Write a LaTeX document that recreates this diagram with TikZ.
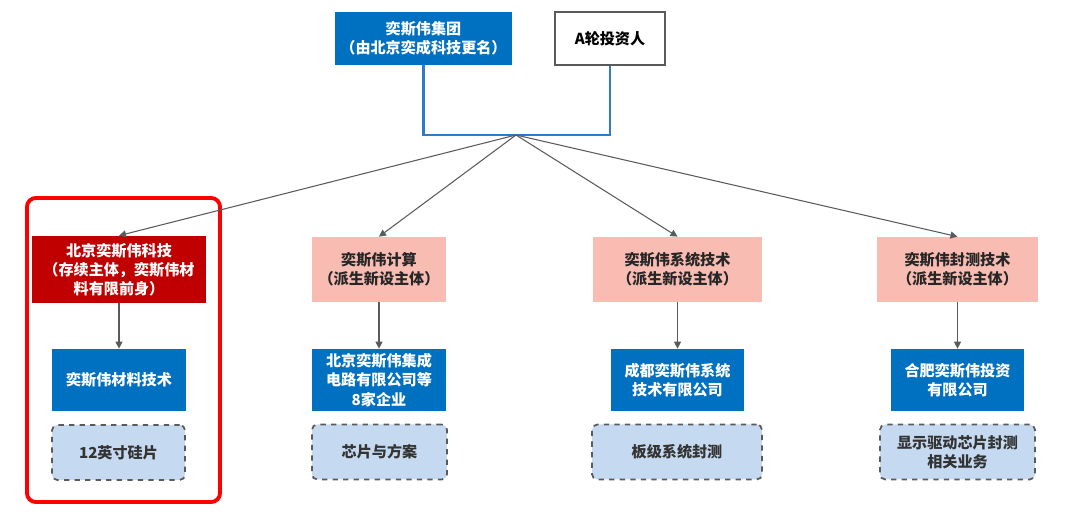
\documentclass[tikz,border=0pt]{standalone}
\usepackage{fontspec}
\setmainfont{Noto Sans CJK SC}
\usepackage{xcolor}
\usetikzlibrary{arrows.meta, positioning}
\definecolor{esblue}{HTML}{0070C0}
\definecolor{esline}{HTML}{2E7CC6}
\definecolor{esred}{HTML}{C00000}
\definecolor{espink}{HTML}{F9BCB2}
\definecolor{eslight}{HTML}{C5D9F0}
\definecolor{esgray}{HTML}{5A5A5A}

\begin{document}
\begin{tikzpicture}[x=0.02cm, y=-0.02cm,
    box/.style={rectangle, align=center, inner sep=0pt,
        font=\fontsize{8.6}{10.9}\selectfont\bfseries},
    topbox/.style={box, fill=esblue, text=white, minimum height=1.06cm},
    invbox/.style={box, draw=esgray, line width=1pt, fill=white, text=black, minimum height=1.06cm},
    mainbox/.style={box, fill=esred, text=white, minimum height=1.34cm},
    subbox/.style={box, fill=espink, text=black!85, minimum height=1.3cm},
    corpbox/.style={box, fill=esblue, text=white, minimum width=2.68cm, minimum height=1.24cm},
    bizbox/.style={box, draw=esgray, dashed, line width=1pt, rounded corners=3pt,
        fill=eslight, text=black!80, minimum height=1.1cm},
    link/.style={draw=esgray, line width=0.6pt, -{Triangle[length=4pt, width=4pt]}},
    bracket/.style={draw=esline, line width=1.2pt}]
    \useasboundingbox (0,0) rectangle (1080,519);

    % shareholders
    \node[topbox, minimum width=3.54cm] (group) at (423.5,38.5) {奕斯伟集团\\（由北京奕成科技更名）};
    \node[invbox, minimum width=2.2cm] (invest) at (610,38.5) {A轮投资人};
    \coordinate (joint) at (516,135);
    \draw[bracket] (group.south) |- (joint) -| (invest.south);

    % new entities
    \node[mainbox, minimum width=3.48cm] (tech) at (119,269.5) {北京奕斯伟科技\\（存续主体，奕斯伟材\\料有限前身）};
    \node[subbox, minimum width=2.68cm] (comp) at (379,269.5) {奕斯伟计算\\（派生新设主体）};
    \node[subbox, minimum width=3.38cm] (sys) at (677.5,269.5) {奕斯伟系统技术\\（派生新设主体）};
    \node[subbox, minimum width=3.22cm] (pack) at (957.5,269.5) {奕斯伟封测技术\\（派生新设主体）};

    % subsidiaries
    \node[corpbox] (mat) at (119,380) {奕斯伟材料技术};
    \node[corpbox] (ic) at (379,380) {北京奕斯伟集成\\电路有限公司等\\8家企业};
    \node[corpbox] (cd) at (677.5,380) {成都奕斯伟系统\\技术有限公司};
    \node[corpbox] (hf) at (957.5,380) {合肥奕斯伟投资\\有限公司};

    % business
    \node[bizbox, minimum width=2.66cm] (wafer) at (118.5,452.5) {12英寸硅片};
    \node[bizbox, minimum width=2.7cm] (chip) at (379.5,452) {芯片与方案};
    \node[bizbox, minimum width=3.4cm] (board) at (677,452) {板级系统封测};
    \node[bizbox, minimum width=3.1cm] (drive) at (957.5,452) {显示驱动芯片封测\\相关业务};

    \draw[red, line width=2.2pt, rounded corners=5pt] (27,198) rectangle (220,502);

    \foreach \e in {tech, comp, sys, pack}
        \draw[link] (joint) -- (\e.north);
    \draw[link] (tech) -- (mat);
    \draw[link] (comp) -- (ic);
    \draw[link] (sys) -- (cd);
    \draw[link] (pack) -- (hf);
\end{tikzpicture}
\end{document}
